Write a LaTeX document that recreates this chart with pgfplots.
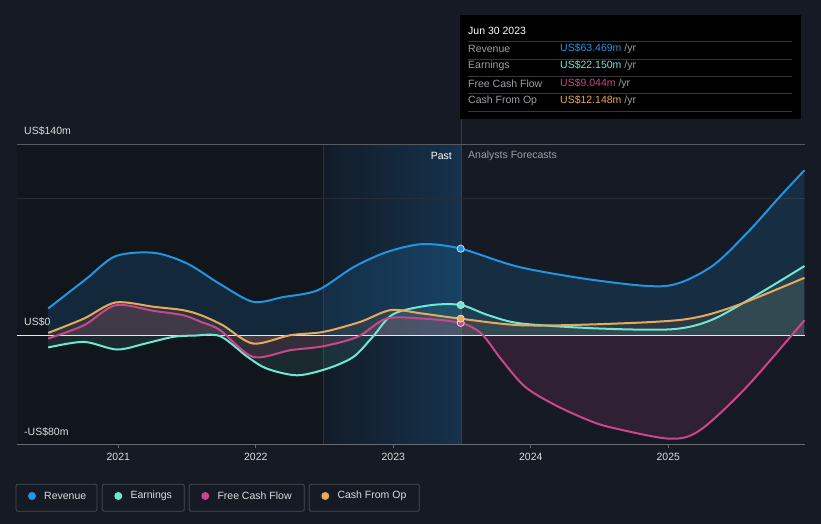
\documentclass[border=0pt]{standalone}
\usepackage{pgfplots}
\pgfplotsset{compat=1.18}
\usepackage{pgfplotstable}
\usepackage{fontspec}
\setmainfont{Liberation Sans}

\definecolor{bgc}{HTML}{151A24}
\definecolor{leftc}{HTML}{11151C}
\definecolor{hlL}{HTML}{121C28}
\definecolor{hlR}{HTML}{16324C}
\definecolor{rev}{HTML}{2394DF}
\definecolor{earn}{HTML}{6EE7D3}
\definecolor{fcf}{HTML}{C9478A}
\definecolor{cfo}{HTML}{E8A95B}
\definecolor{lbl}{HTML}{DCDCDC}
\definecolor{dim}{HTML}{9AA0A6}

% values in US$m, x in decimal years
\pgfplotstableread{
x y
2020.49 19.6
2020.77 41.6
2020.98 58.0
2021.26 60.4
2021.50 52.6
2021.74 37.5
2021.98 24.5
2022.20 28.0
2022.45 33.0
2022.71 49.9
2022.95 60.9
2023.21 66.8
2023.49 63.5
2023.92 49.9
2024.50 39.9
2024.99 36.2
2025.31 50.1
2025.57 74.7
2025.81 101.5
2025.99 121.0
}\revenue

\pgfplotstableread{
x y
2020.49 -9.0
2020.75 -4.9
2020.99 -10.5
2021.20 -6.0
2021.40 -1.2
2021.55 -0.3
2021.74 -0.7
2021.94 -15.9
2022.08 -24.5
2022.30 -29.4
2022.52 -24.5
2022.71 -15.9
2022.85 -1.2
2023.00 15.5
2023.27 22.0
2023.49 22.15
2023.69 14.7
2023.93 8.6
2024.50 4.9
2025.03 4.4
2025.31 11.0
2025.62 28.1
2025.99 50.7
}\earnings

\pgfplotstableread{
x y
2020.49 -2.4
2020.75 7.3
2020.98 22.0
2021.26 17.8
2021.47 14.7
2021.60 9.8
2021.74 3.7
2021.98 -15.9
2022.25 -11.0
2022.49 -8.1
2022.74 -1.2
2022.95 12.2
2023.21 12.2
2023.49 9.0
2023.64 1.2
2023.79 -18.4
2023.96 -38.0
2024.18 -51.4
2024.42 -62.4
2024.59 -67.8
2025.01 -75.9
2025.23 -69.7
2025.57 -37.9
2025.99 11.0
}\fcf

\pgfplotstableread{
x y
2020.49 1.7
2020.75 12.2
2020.98 24.0
2021.26 20.8
2021.47 18.4
2021.60 14.7
2021.76 7.3
2021.98 -6.1
2022.25 0.0
2022.49 2.4
2022.76 9.8
2022.98 18.4
2023.21 15.9
2023.49 12.1
2023.93 7.3
2024.50 8.1
2025.11 11.5
2025.47 20.8
2025.99 42.1
}\cfo

\begin{document}
\begin{tikzpicture}[x=1pt,y=1pt,font=\fontsize{10.5}{12}\selectfont]
% background and plot regions (image y measured from top: Y = 524 - y)
\fill[bgc] (0,0) rectangle (821,524);
\fill[leftc] (17,79.7) rectangle (323,379.7);
\shade[left color=hlL, right color=hlR] (323,79.7) rectangle (461,379.7);
\draw[rev!25!bgc, line width=0.8pt] (323,79.7) -- (323,379.7);
\draw[rev!35!bgc, line width=1pt] (461,79.7) -- (461,405);

\begin{axis}[
  at={(17pt,79.7pt)}, anchor=south west,
  scale only axis, width=788pt, height=300pt,
  xmin=2020.263, xmax=2025.994, ymin=-80, ymax=140,
  axis x line=bottom, axis y line=none,
  axis line style={draw=white!35!bgc, line width=0.8pt, -},
  xtick={2021,2022,2023,2024,2025},
  xticklabels={2021,2022,2023,2024,2025},
  xtick align=outside, major tick length=4pt,
  tick style={draw=white!35!bgc, line width=0.8pt},
  x tick label style={text=lbl, font=\fontsize{10.5}{12}\selectfont, yshift=-1pt},
  /pgf/number format/assume math mode=true,
  clip=false,
]
% grid lines
\draw[white!28!bgc, line width=0.8pt] (axis cs:2020.263,140) -- (axis cs:2025.994,140);
\draw[white!8!bgc, line width=0.8pt] (axis cs:2020.263,100) -- (axis cs:2025.994,100);

% areas to zero
\addplot[draw=none, fill=rev, fill opacity=0.16, smooth] table {\revenue} \closedcycle;
\addplot[draw=none, fill=earn, fill opacity=0.10, smooth] table {\earnings} \closedcycle;
\addplot[draw=none, fill=fcf, fill opacity=0.15, smooth] table {\fcf} \closedcycle;
\addplot[draw=none, fill=cfo, fill opacity=0.10, smooth] table {\cfo} \closedcycle;

\draw[white!90!bgc, line width=1pt] (axis cs:2020.263,0) -- (axis cs:2025.994,0);

% lines
\addplot[rev, line width=2pt, smooth] table {\revenue};
\addplot[earn, line width=2pt, smooth] table {\earnings};
\addplot[fcf, line width=2pt, smooth] table {\fcf};
\addplot[cfo, line width=2pt, smooth] table {\cfo};

% markers at Jun 30 2023
\addplot[only marks, mark=*, mark size=3.6pt, mark options={fill=rev, draw=white!85!black, line width=0.8pt}] coordinates {(2023.49,63.469)};
\addplot[only marks, mark=*, mark size=3.6pt, mark options={fill=earn, draw=white!85!black, line width=0.8pt}] coordinates {(2023.49,22.150)};
\addplot[only marks, mark=*, mark size=3.6pt, mark options={fill=fcf, draw=white!85!black, line width=0.8pt}] coordinates {(2023.49,9.044)};
\addplot[only marks, mark=*, mark size=3.6pt, mark options={fill=cfo, draw=white!85!black, line width=0.8pt}] coordinates {(2023.49,12.148)};
\end{axis}

% y labels
\node[anchor=west, text=lbl, inner sep=0] at (24,393) {US\$140m};
\node[anchor=west, text=lbl, inner sep=0] at (24,202) {US\$0};
\node[anchor=west, text=lbl, inner sep=0] at (24,92) {-US\$80m};

% past / forecast
\node[anchor=east, text=white, inner sep=0] at (452,368) {Past};
\node[anchor=west, text=dim, inner sep=0] at (468,368) {Analysts Forecasts};

% tooltip
\fill[black] (460,509) rectangle (801,405);
\node[anchor=west, text=white, inner sep=0] at (468,493) {Jun 30 2023};
\foreach \yy in {482.3,465,447.3,430.7,413} \draw[white!22!black, line width=0.7pt] (468,\yy) -- (792,\yy);
\node[anchor=west, text=dim, inner sep=0] at (468,475) {Revenue};
\node[anchor=west, text=dim, inner sep=0] at (468,458) {Earnings};
\node[anchor=west, text=dim, inner sep=0] at (468,440) {Free Cash Flow};
\node[anchor=west, text=dim, inner sep=0] at (468,423) {Cash From Op};
\node[anchor=west, inner sep=0] at (560,475) {\textcolor{rev}{US\$63.469m} \textcolor{dim}{/yr}};
\node[anchor=west, inner sep=0] at (560,458) {\textcolor{earn}{US\$22.150m} \textcolor{dim}{/yr}};
\node[anchor=west, inner sep=0] at (560,440) {\textcolor{fcf}{US\$9.044m} \textcolor{dim}{/yr}};
\node[anchor=west, inner sep=0] at (560,423) {\textcolor{cfo}{US\$12.148m} \textcolor{dim}{/yr}};

% legend
\foreach \xa/\xb/\c/\t in {16/97/rev/Revenue, 102.3/184.3/earn/Earnings, 189.3/304.3/fcf/Free Cash Flow, 309.3/419.3/cfo/Cash From Op}{
  \draw[white!22!bgc, line width=0.8pt, rounded corners=2pt] (\xa,12.7) rectangle (\xb,39.7);
  \fill[\c] (\xa+16,28) circle (4);
  \node[anchor=west, text=lbl, inner sep=0] at (\xa+28,28) {\t};
}
\end{tikzpicture}
\end{document}
